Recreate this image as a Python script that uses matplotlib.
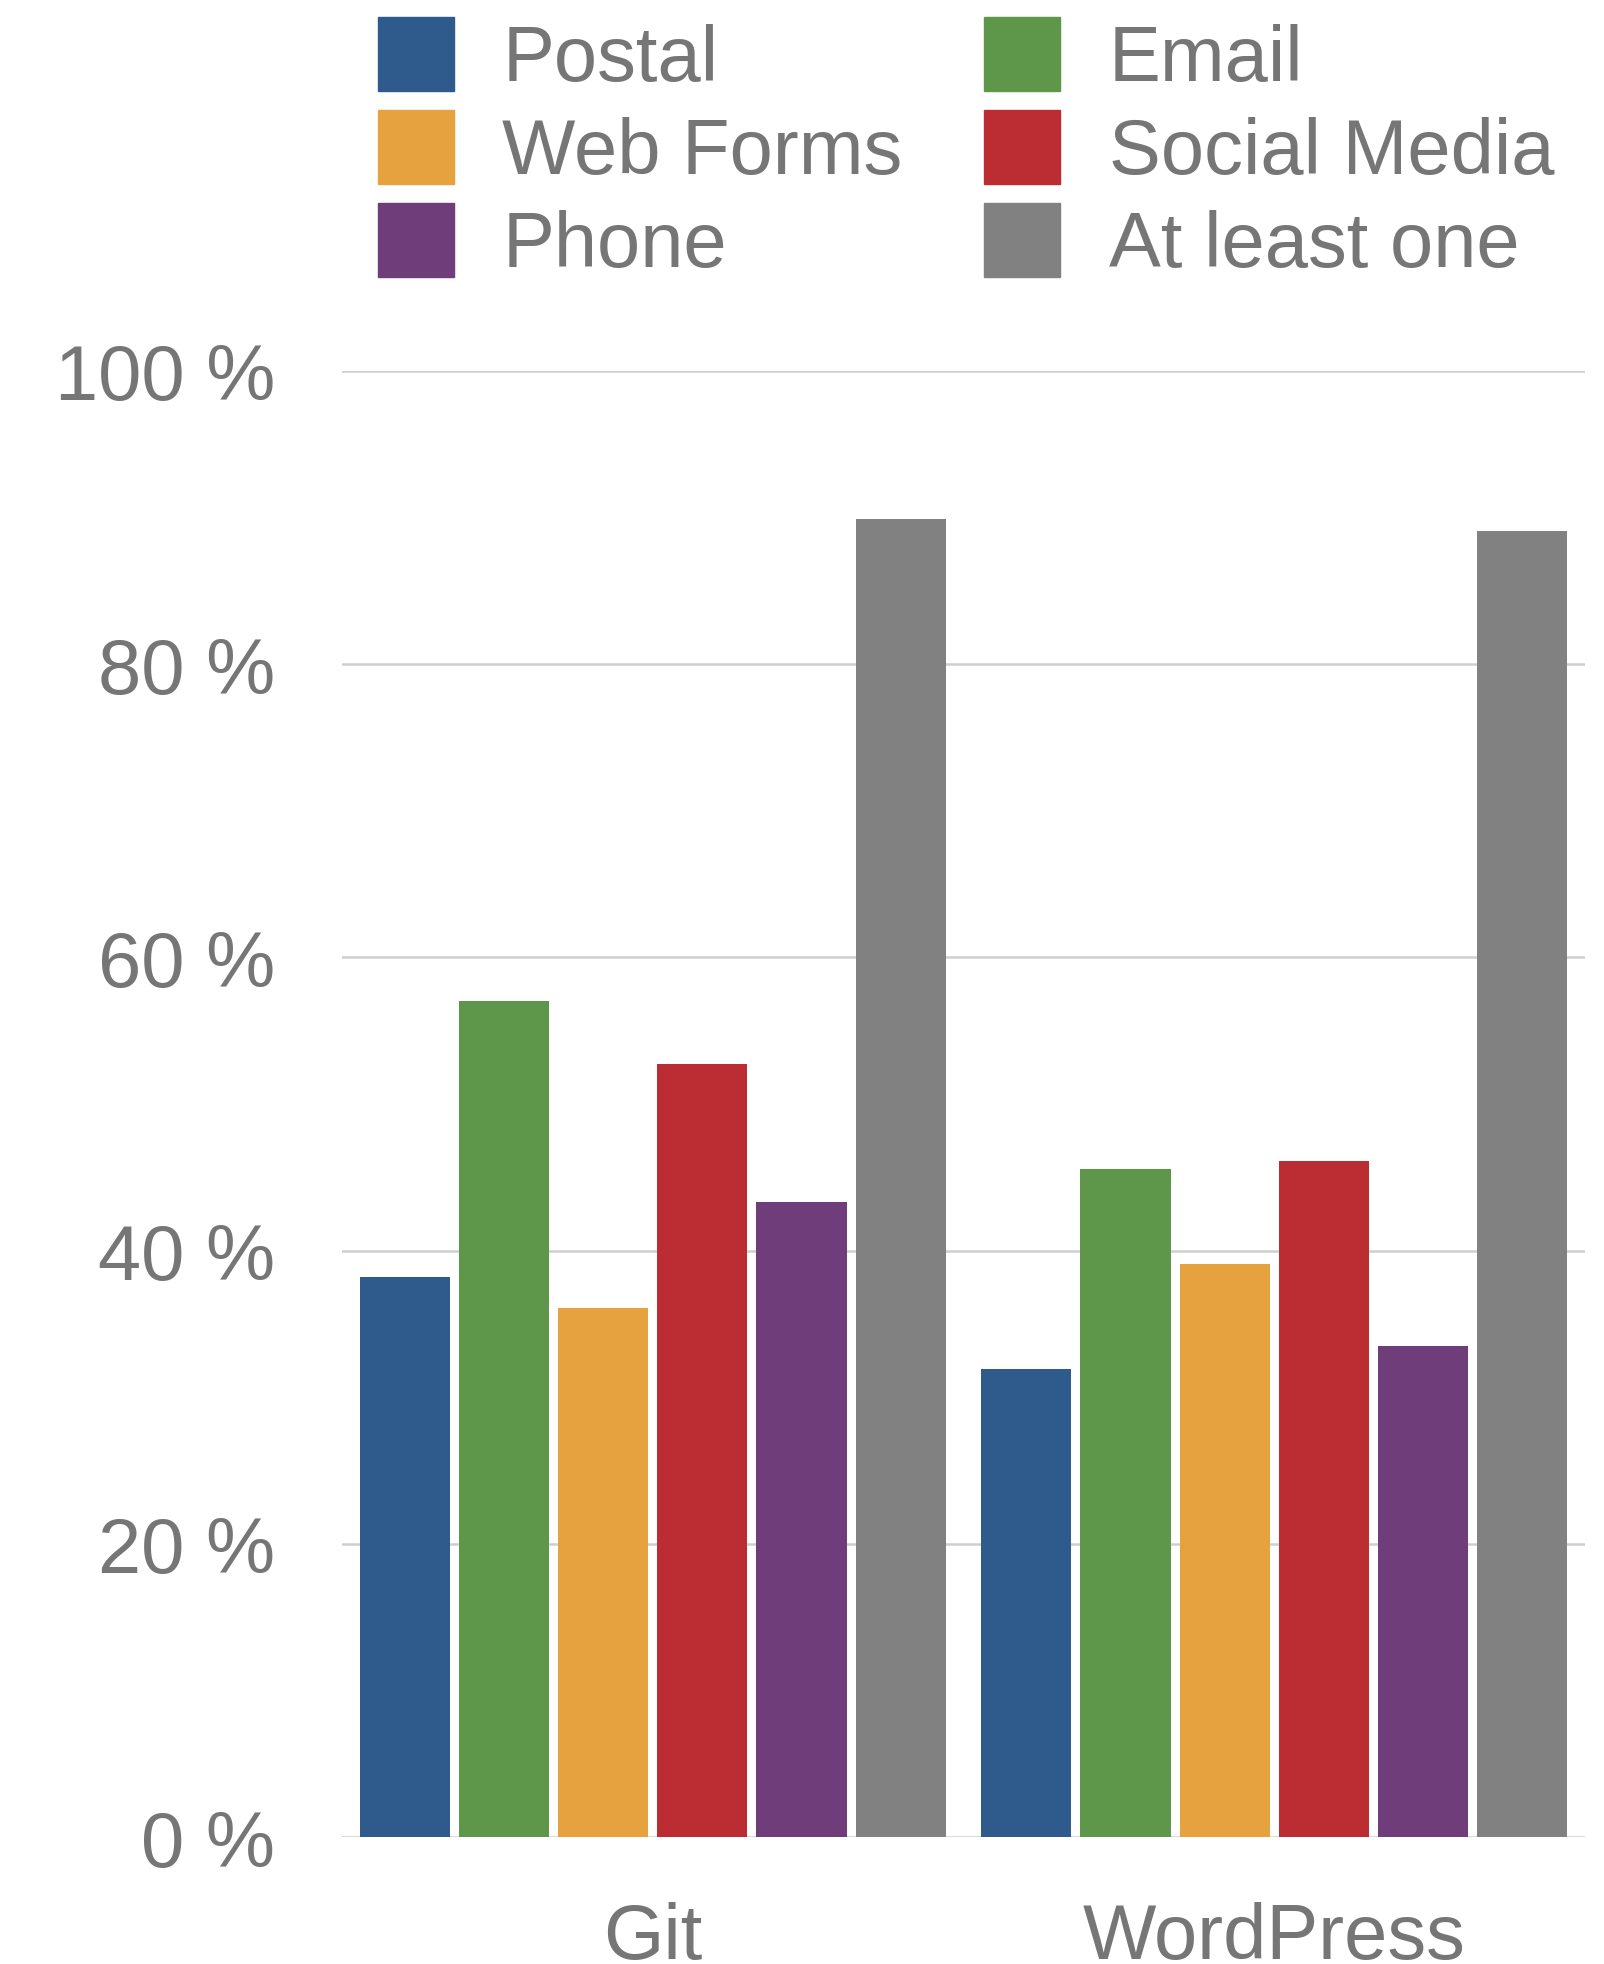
import numpy as np
import matplotlib.pyplot as plt
from matplotlib.patches import Patch

# values (percent)
groups = ["Git", "WordPress"]
channels = ["Postal", "Email", "Web Forms", "Social Media", "Phone", "At least one"]
git_vals = [38.2, 57.0, 36.1, 52.7, 43.3, 89.9]
wp_vals = [31.9, 45.6, 39.1, 46.1, 33.5, 89.1]
colors = ["#2E5A8C", "#5E974A", "#E6A23E", "#BC2D33", "#6F3D7A", "#808180"]
yticks = [0, 20, 40, 60, 80, 100]

TXT = "#767676"
plt.rcParams["font.family"] = ["Liberation Sans", "DejaVu Sans"]


def main():
    fig = plt.figure(figsize=(16.04, 19.65), dpi=100)
    ax = fig.add_axes([0.2132, 0.0646, 0.775, 0.7461])

    x = np.arange(len(groups))
    pitch = 0.1596
    width = 0.145
    vals = np.array([git_vals, wp_vals])
    for i, ch in enumerate(channels):
        ax.bar(x + (i - 2.5) * pitch, vals[:, i], width=width,
               color=colors[i], label=ch, zorder=3)

    ax.set_xlim(-0.5, 1.5)
    ax.set_ylim(0, 100)
    ax.set_yticks(yticks)
    ax.set_yticklabels([f"{t} %" for t in yticks])
    ax.set_xticks(x)
    ax.set_xticklabels(groups)
    ax.tick_params(axis="y", length=0, pad=48, labelsize=56, labelcolor=TXT)
    ax.tick_params(axis="x", length=0, pad=46, labelsize=56, labelcolor=TXT)
    ax.grid(axis="y", color="#CFCFCF", lw=1.8, zorder=0)
    for s in ["top", "right", "left", "bottom"]:
        ax.spines[s].set_visible(False)

    handles = [Patch(color=c, label=l) for c, l in zip(colors, channels)]
    # legend fills row-wise like the reference: Postal/Email, Web Forms/Social Media, Phone/At least one
    order = [0, 2, 4, 1, 3, 5]
    leg = fig.legend([handles[k] for k in order], [channels[k] for k in order],
                     ncol=2, loc="upper left", bbox_to_anchor=(0.2307, 0.995),
                     frameon=False, fontsize=56, handlelength=0.98,
                     handleheight=1.1, handletextpad=0.62, labelspacing=0.17,
                     columnspacing=1.05, borderaxespad=0, borderpad=0.1)
    for t in leg.get_texts():
        t.set_color(TXT)

    fig.savefig("out.png", dpi=100)


if __name__ == "__main__":
    main()
